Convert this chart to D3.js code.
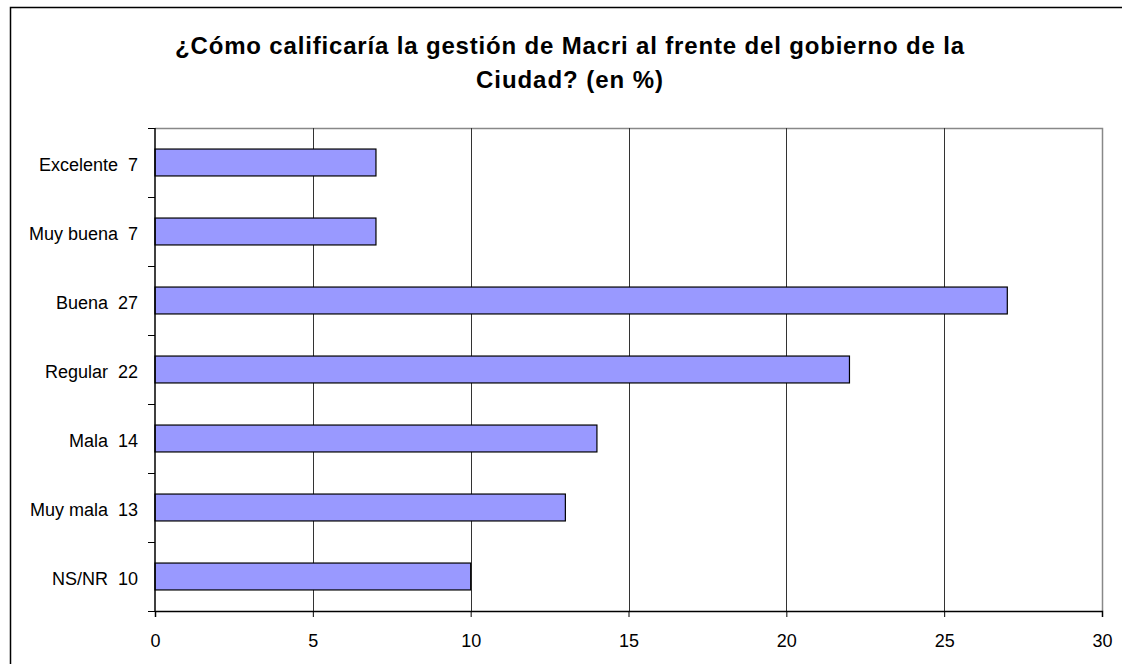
<!DOCTYPE html>
<html>
<head>
<meta charset="utf-8">
<script src="https://cdn.jsdelivr.net/npm/d3@7"></script>
<style>
  body { margin: 0; background: #fff; overflow: hidden; }
  svg { display: block; }
  text { font-family: "Liberation Sans", Arial, sans-serif; }
</style>
</head>
<body>
<script>
// data
var categories = ["Excelente", "Muy buena", "Buena", "Regular", "Mala", "Muy mala", "NS/NR"];
var values = [7, 7, 27, 22, 14, 13, 10];
var xTicks = [0, 5, 10, 15, 20, 25, 30];
var titleLines = ["¿Cómo calificaría la gestión de Macri al frente del gobierno de la", "Ciudad? (en %)"];

var svgWidth = 1122;
var svgHeight = 664;
var plot = {left: 155, top: 128, right: 1102, bottom: 611};

var svg = d3.select("body")
  .append("svg")
  .attr("width", svgWidth)
  .attr("height", svgHeight);

// outer frame (only left and top show)
svg.append("path")
  .attr("d", "M10.5,664V7.5H1122")
  .attr("fill", "none")
  .attr("stroke", "#000")
  .attr("stroke-width", 1.5);

// title, stretched to the widths in the picture
var titleSpans = [[175, 964], [476, 663]];
svg.selectAll(".title")
  .data(titleLines)
  .enter()
  .append("text")
  .attr("x", (d, i) => titleSpans[i][0])
  .attr("y", (d, i) => 53.5 + i * 34)
  .attr("textLength", (d, i) => titleSpans[i][1] - titleSpans[i][0])
  .attr("lengthAdjust", "spacing")
  .style("font-size", "24px")
  .style("font-weight", "bold")
  .text(d => d);

var x = d3.scaleLinear().domain([0, 30]).range([plot.left, plot.right]);
var y = d3.scaleBand().domain(categories).range([plot.top, plot.bottom]).paddingInner(0.61).paddingOuter(0.305);
var yb = d3.scaleBand().domain(categories).range([plot.top, plot.bottom]);

// plot border, right and top gray
svg.append("path")
  .attr("d", `M${plot.left},${plot.top + 0.5}H${plot.right + 0.5}V${plot.bottom}`)
  .attr("fill", "none")
  .attr("stroke", "#888")
  .attr("stroke-width", 1.5);

// vertical gridlines
svg.selectAll(".grid")
  .data(xTicks.slice(1, -1))
  .enter()
  .append("line")
  .attr("x1", d => Math.round(x(d)) + 0.5)
  .attr("x2", d => Math.round(x(d)) + 0.5)
  .attr("y1", plot.top)
  .attr("y2", plot.bottom)
  .attr("stroke", "#333")
  .attr("stroke-width", 1);

svg.selectAll(".bar")
  .data(values)
  .enter()
  .append("rect")
  .attr("x", x(0))
  .attr("y", (d, i) => y(categories[i]))
  .attr("width", d => x(d) - x(0))
  .attr("height", y.bandwidth())
  .attr("fill", "#9999ff")
  .attr("stroke", "#000")
  .attr("stroke-width", 1.2);

// x axis
var xAxis = d3.axisBottom(x).tickValues(xTicks).tickSize(6).tickPadding(17);
var gx = svg.append("g")
  .attr("transform", `translate(0,${plot.bottom})`)
  .call(xAxis);
gx.select(".domain").attr("stroke", "#000").attr("stroke-width", 1.5);
gx.selectAll(".tick line").attr("stroke", "#000");
gx.selectAll("text").style("font-size", "18px").attr("fill", "#000")
  .style("font-family", "'Liberation Sans', Arial, sans-serif");

// y axis: ticks at band boundaries
var bounds = categories.map(c => yb(c)).concat([plot.bottom]);
svg.append("line")
  .attr("x1", plot.left).attr("x2", plot.left)
  .attr("y1", plot.top).attr("y2", plot.bottom)
  .attr("stroke", "#000").attr("stroke-width", 1.5);
svg.selectAll(".ytick")
  .data(bounds)
  .enter()
  .append("line")
  .attr("x1", plot.left - 7).attr("x2", plot.left)
  .attr("y1", d => Math.round(d) + 0.5).attr("y2", d => Math.round(d) + 0.5)
  .attr("stroke", "#000");

svg.selectAll(".ylabel")
  .data(categories)
  .enter()
  .append("text")
  .attr("x", 138)
  .attr("y", (d, i) => yb(d) + yb.bandwidth() / 2 + 8)
  .attr("text-anchor", "end")
  .style("font-size", "18px")
  .text((d, i) => d + "\u00a0 " + values[i]);
</script>
</body>
</html>
